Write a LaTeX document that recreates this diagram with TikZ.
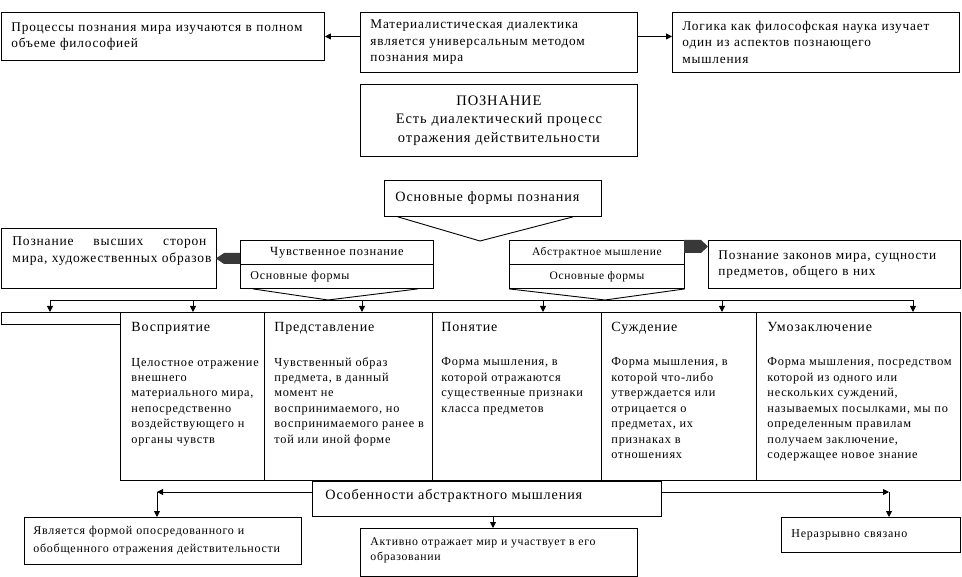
\documentclass[tikz,border=0pt]{standalone}
\usepackage{fontspec}
\setmainfont{Liberation Serif}[LetterSpace=6]
\usetikzlibrary{arrows.meta}
\newcommand{\myfs}[2]{\fontsize{#1}{#2}\selectfont}
\begin{document}
\begin{tikzpicture}[x=1pt,y=-1pt,
  line width=0.9pt,
  box/.style={draw, inner ysep=0pt, inner xsep=10pt, anchor=north west, align=left},
  ebox/.style={draw, inner sep=0pt, anchor=north west},
  plain/.style={inner sep=0pt, anchor=base west, align=left},
  arr/.style={-{Triangle[length=6pt,width=6pt]}},
  dark/.style={fill=black!78, draw=none},
  fa/.style={font=\myfs{13.3}{16.5}},
  fcell/.style={font=\myfs{12.3}{15.47}},
  fhead/.style={font=\myfs{14}{16}}]
\useasboundingbox (0,0) rectangle (962,577);

% top row
\node[box, fa, text width=303pt, minimum height=48pt] (b1) at (1,12) {Процессы познания мира изучаются в полном\\объеме философией};
\node[box, fa, text width=257pt, minimum height=60pt] (b2) at (360,12) {Материалистическая диалектика\\является универсальным методом\\познания мира};
\node[box, fa, text width=267pt, minimum height=60pt] (b4) at (672,12) {Логика как философская наука изучает\\один из аспектов познающего\\мышления};
\node[box, font=\myfs{14.5}{18.5}, text width=257pt, minimum height=72pt, align=center] (b3) at (360,84) {ПОЗНАНИЕ\\Есть диалектический процесс\\отражения действительности};

\draw[arr] (b2.west |- b1.east) -- (b1.east);
\draw[arr] (b2.east |- b1.east) -- (b4.west |- b1.east);

% basic forms
\node[box, font=\myfs{14.2}{17}, inner xsep=11pt, text width=195pt, minimum height=36pt] (osn) at (384,180) {Основные формы познания};
\coordinate (oa) at (480,241);
\draw ([xshift=14pt]osn.south west) -- (oa) -- ([xshift=-29pt]osn.south east);

% left side
\node[ebox, minimum width=215pt, minimum height=60pt] (lv) at (1,228) {};
\node[plain, font=\myfs{13.5}{16.7}] (lvt) at (12,262.7) {\hbox to 194pt{Познание\hfill высших\hfill сторон}\\мира, художественных образов};
\node[ebox, minimum width=193pt, minimum height=24pt, font=\myfs{12.5}{15}] (cht) at (240,240) {Чувственное познание};
\node[box, minimum width=193pt, minimum height=24pt, text width=173pt, inner xsep=10pt, font=\myfs{12}{15}] (chb) at (240,264) {Основные формы};
\fill[dark] (240,253) -- (224,253) -- (216,258.5) -- (224,264) -- (240,264) -- cycle;
\coordinate (ca) at (328,300);
\draw ([xshift=13pt]chb.south west) -- (ca) -- ([xshift=-16pt]chb.south east);

% right side
\node[ebox, minimum width=175pt, minimum height=24pt, font=\myfs{11.5}{14}] (abt) at (509,240) {Абстрактное мышление};
\node[ebox, minimum width=175pt, minimum height=24pt, font=\myfs{11.5}{14}] (abb) at (509,264) {Основные формы};
\node[box, fa, text width=232pt, minimum height=48pt] (pz) at (708,240) {Познание законов мира,  сущности\\предметов, общего в них};
\fill[dark] (684,240) -- (701,240) -- (708,246.5) -- (701,253) -- (684,253) -- cycle;
\coordinate (aa) at (605,300);
\draw (abb.south west) -- (aa) -- (abb.south east);

% distribution line
\coordinate (d0) at (50,300);
\coordinate (d1) at (193,300);
\coordinate (d2) at (362,300);
\coordinate (d3) at (543,300);
\coordinate (d4) at (722,300);
\coordinate (d5) at (913,300);
\draw (d0) -- (d5);

% cells
\node[ebox, minimum width=119pt, minimum height=12pt] (bar) at (1,312) {};
\node[ebox, minimum width=144pt, minimum height=168pt] (c1) at (120,312) {};
\node[ebox, minimum width=168pt, minimum height=168pt] (c2) at (264,312) {};
\node[ebox, minimum width=169pt, minimum height=168pt] (c3) at (432,312) {};
\node[ebox, minimum width=155pt, minimum height=168pt] (c4) at (601,312) {};
\node[ebox, minimum width=204pt, minimum height=168pt] (c5) at (756,312) {};

\draw[arr] (d0) -- (d0 |- bar.north);
\draw[arr] (d1) -- (d1 |- c1.north);
\draw[arr] (d2) -- (d2 |- c2.north);
\draw[arr] (d3) -- (d3 |- c3.north);
\draw[arr] (d4) -- (d4 |- c4.north);
\draw[arr] (d5) -- (d5 |- c5.north);

\node[plain, fhead] (h1) at (131,332) {Восприятие};
\node[plain, fhead] (h2) at (274,332) {Представление};
\node[plain, fhead] (h3) at (441,332) {Понятие};
\node[plain, fhead] (h4) at (611,332) {Суждение};
\node[plain, fhead] (h5) at (767,332) {Умозаключение};

\node[plain, fcell] (t1) at (131,443.4) {Целостное отражение\\внешнего\\материального мира,\\непосредственно\\воздействующего н\\органы чувств};
\node[plain, fcell] (t2) at (274,443.4) {Чувственный образ\\предмета, в данный\\момент не\\воспринимаемого, но\\воспринимаемого ранее в\\той или иной форме};
\node[plain, fcell] (t3) at (441,412.4) {Форма мышления, в\\которой отражаются\\существенные признаки\\класса предметов};
\node[plain, fcell] (t4) at (611,458.8) {Форма мышления, в\\которой что-либо\\утверждается или\\отрицается о\\предметах, их\\признаках в\\отношениях};
\node[plain, fcell] (t5) at (767,458.8) {Форма мышления, посредством\\которой из одного или\\нескольких суждений,\\называемых посылками, мы по\\определенным правилам\\получаем заключение,\\содержащее новое знание};

% bottom
\node[ebox, minimum width=349pt, minimum height=35pt] (ob) at (312,481) {};
\node[plain, font=\myfs{14.2}{18}] (obt) at (325,499) {Особенности абстрактного мышления};
\node[box, font=\myfs{12}{18}, inner xsep=9pt, text width=259pt, minimum height=47pt] (bl) at (24,517) {Является формой опосредованного и\\обобщенного отражения действительности};
\node[ebox, minimum width=277pt, minimum height=48pt] (bm) at (360,528) {};
\node[plain, font=\myfs{11.8}{15}] (bmt) at (370,560) {Активно отражает мир и участвует в его\\образовании};
\node[box, font=\myfs{12}{15}, text width=159pt, minimum height=35pt] (br) at (781,517) {Неразрывно связано};

\coordinate (kl) at (157,492);
\coordinate (kr) at (889,492);
\coordinate (km) at (493,516);
\draw[arr] (ob.west |- kl) -- (kl);
\draw[arr] (kl) -- (kl |- bl.north);
\draw[arr] (ob.east |- kr) -- (kr);
\draw[arr] (kr) -- (kr |- br.north);
\draw[arr] (km) -- (km |- bm.north);
\end{tikzpicture}
\end{document}
